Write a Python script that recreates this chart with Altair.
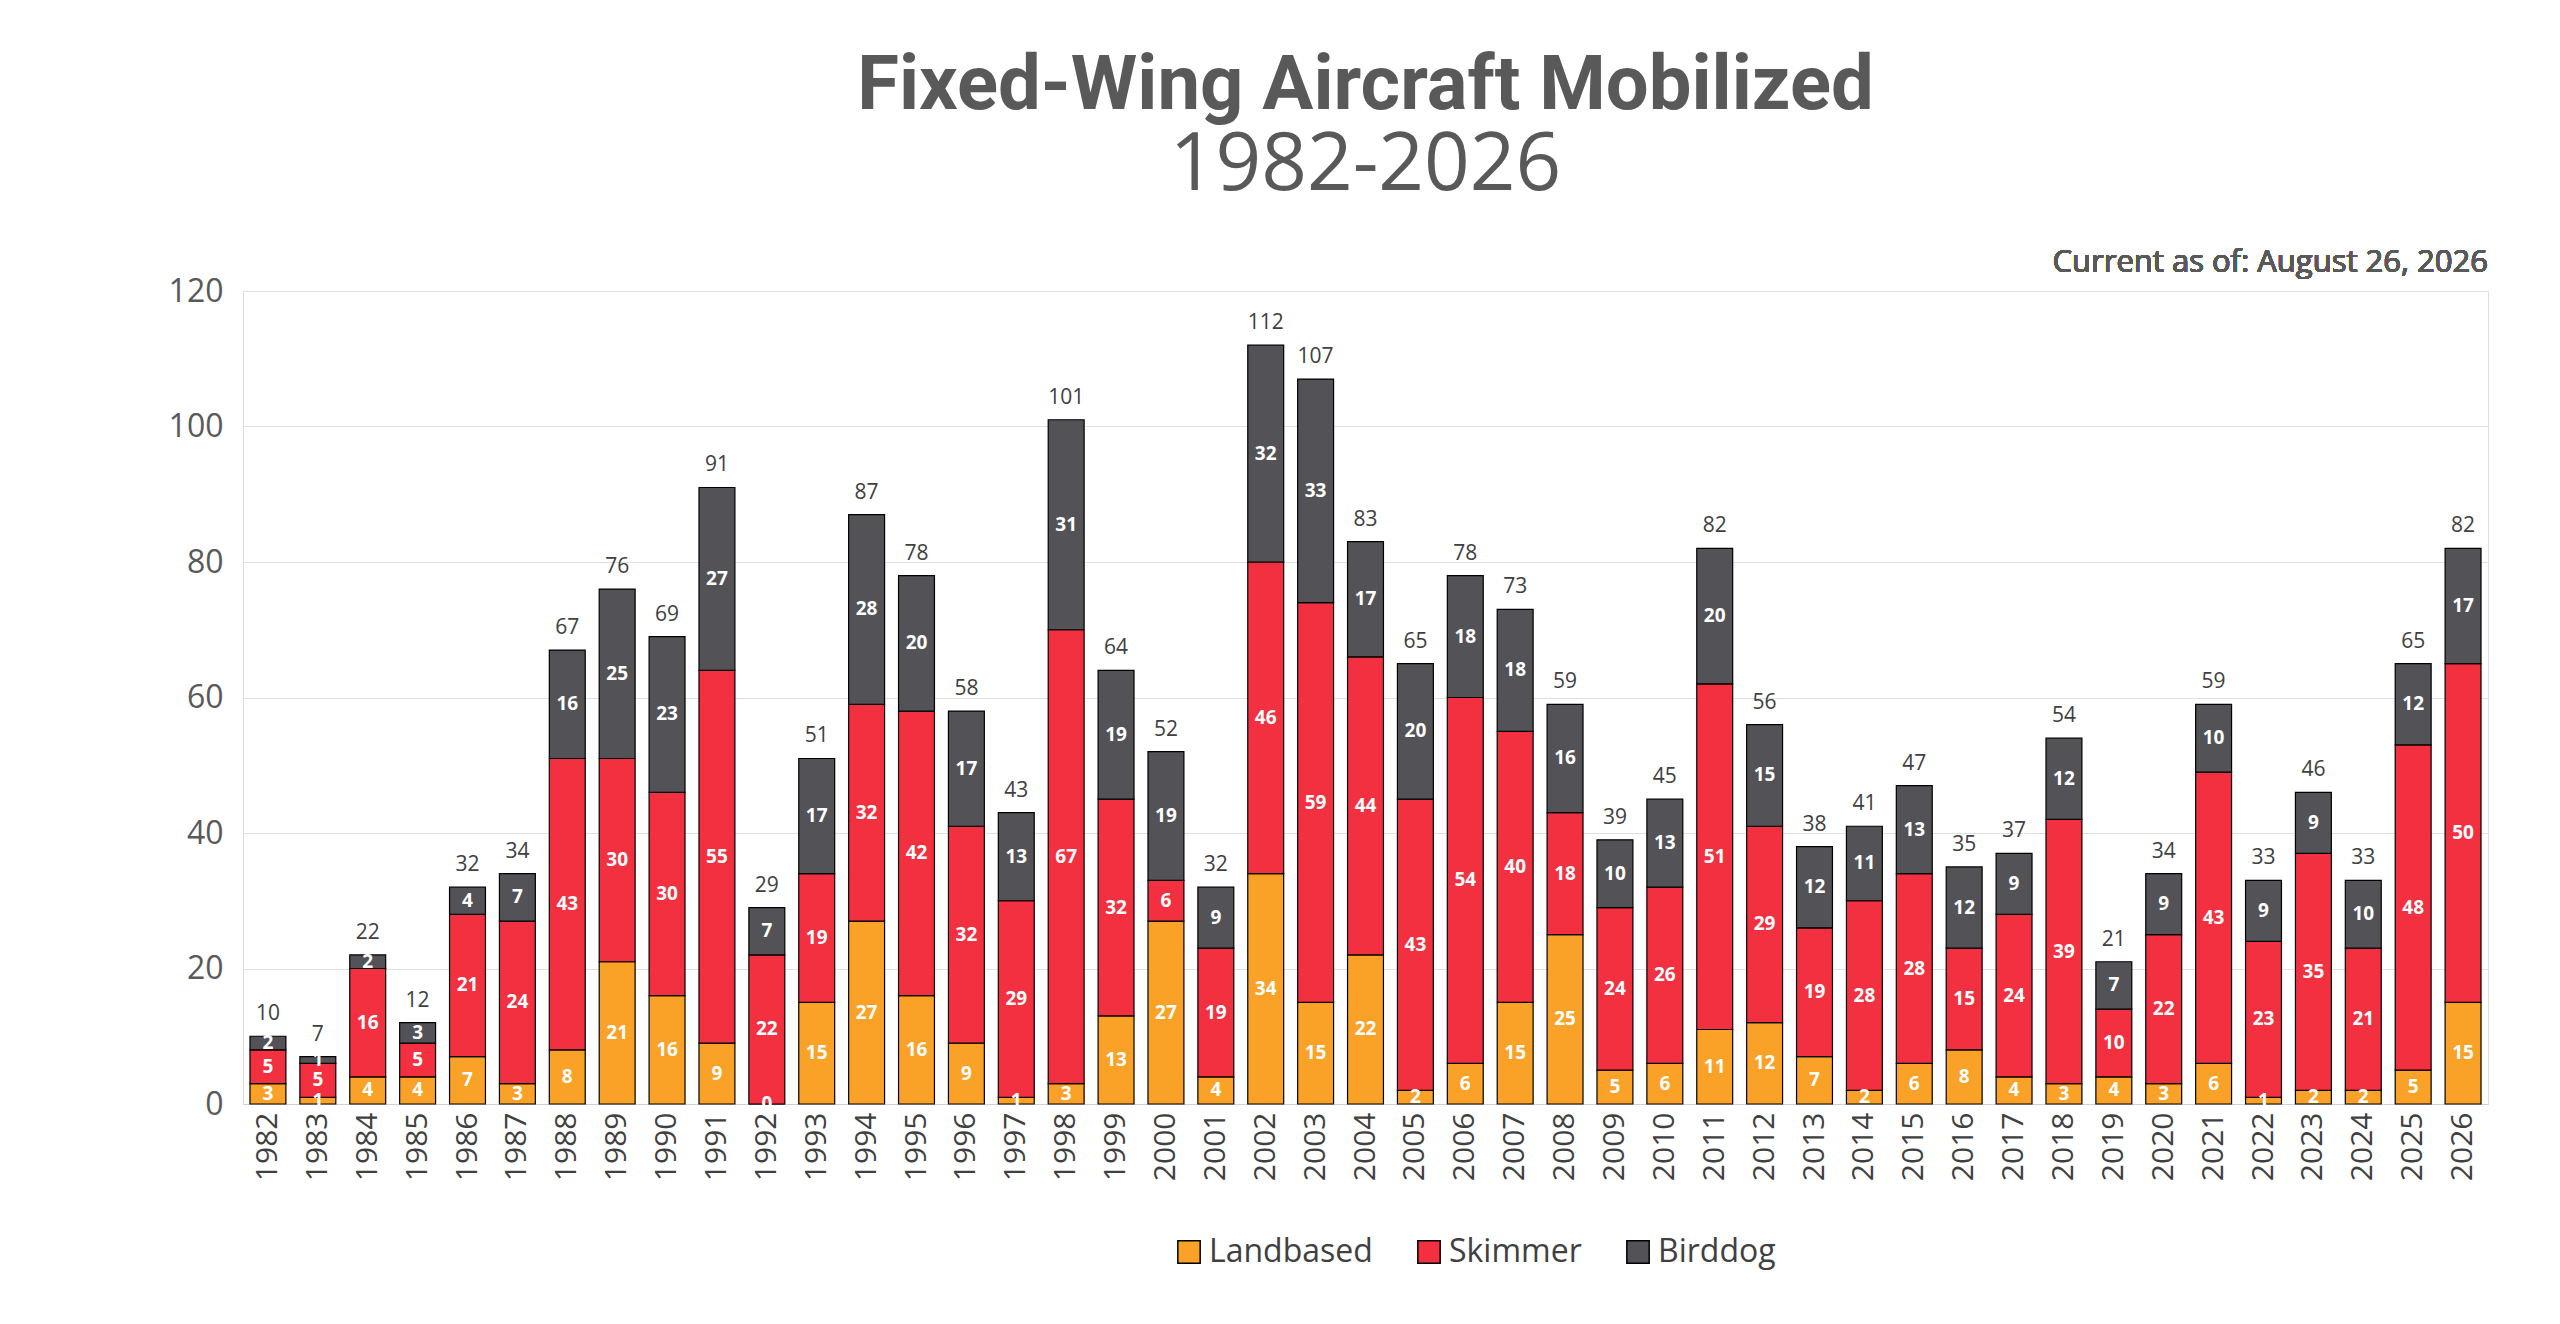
import altair as alt
import pandas as pd

years = [str(y) for y in range(1982, 2027)]
landbased = [3, 1, 4, 4, 7, 3, 8, 21, 16, 9, 0, 15, 27, 16, 9, 1, 3, 13, 27, 4,
             34, 15, 22, 2, 6, 15, 25, 5, 6, 11, 12, 7, 2, 6, 8, 4, 3, 4, 3, 6,
             1, 2, 2, 5, 15]
skimmer = [5, 5, 16, 5, 21, 24, 43, 30, 30, 55, 22, 19, 32, 42, 32, 29, 67, 32, 6, 19,
           46, 59, 44, 43, 54, 40, 18, 24, 26, 51, 29, 19, 28, 28, 15, 24, 39, 10, 22, 43,
           23, 35, 21, 48, 50]
birddog = [2, 1, 2, 3, 4, 7, 16, 25, 23, 27, 7, 17, 28, 20, 17, 13, 31, 19, 19, 9,
           32, 33, 17, 20, 18, 18, 16, 10, 13, 20, 15, 12, 11, 13, 12, 9, 12, 7, 9, 10,
           9, 9, 10, 12, 17]
types = ["Landbased", "Skimmer", "Birddog"]
colors = ["#F9A227", "#F2303F", "#525257"]

rows = []
for i, y in enumerate(years):
    for k, (t, v) in enumerate(zip(types, [landbased, skimmer, birddog])):
        rows.append({"year": y, "type": t, "order": k, "value": v[i]})
df = pd.DataFrame(rows)
totals = pd.DataFrame({"year": years,
                       "total": [a + b + c for a, b, c in zip(landbased, skimmer, birddog)]})

FONT = "Open Sans"
W, H = 2245, 813

x = alt.X("year:N", title=None, scale=alt.Scale(paddingInner=0.28, paddingOuter=0.14),
          axis=alt.Axis(labelAngle=270, labelFontSize=30, labelColor="#404040",
                        labelFont=FONT, ticks=False, domainColor="#d0d0d0", labelPadding=8))

base = alt.Chart(df)
bars = base.mark_bar(stroke="black", strokeWidth=1.2).encode(
    x=x,
    y=alt.Y("value:Q", stack="zero", title=None,
            scale=alt.Scale(domain=[0, 120]),
            axis=alt.Axis(values=[0, 20, 40, 60, 80, 100, 120], labelFontSize=32,
                          labelColor="#595959", labelFont=FONT, ticks=False, domain=False,
                          gridColor="#e0e0e0", labelPadding=20)),
    color=alt.Color("type:N", sort=types, scale=alt.Scale(domain=types, range=colors),
                    legend=alt.Legend(orient="none", legendX=930, legendY=945,
                                      direction="horizontal", title=None, labelFontSize=32,
                                      labelLimit=400,
                                      labelFont=FONT, labelColor="#404040", symbolType="square",
                                      symbolSize=500, symbolStrokeColor="black",
                                      symbolStrokeWidth=1.5, columnPadding=40)),
    order=alt.Order("order:Q"),
)

seg_labels = base.transform_stack(
    stack="value", groupby=["year"], as_=["v0", "v1"],
    sort=[alt.SortField("order", "ascending")]
).transform_calculate(
    mid="(datum.v0 + datum.v1) / 2"
).mark_text(color="white", fontSize=19, fontWeight="bold", font=FONT, baseline="middle").encode(
    x=x, y=alt.Y("mid:Q"), text="value:Q"
)

total_labels = alt.Chart(totals).mark_text(
    color="#404040", fontSize=21, font=FONT, baseline="bottom", dy=-12
).encode(x=x, y=alt.Y("total:Q"), text="total:Q")

note = alt.Chart(totals).mark_text(
    text="Current as of: August 26, 2026", align="right", baseline="bottom",
    fontSize=31, font=FONT, fontWeight="normal", color="#595959"
).encode(x=alt.value(W), y=alt.value(-12))

chart = (
    alt.layer(bars, seg_labels, total_labels, note)
    .properties(
        width=W, height=H,
        title=alt.TitleParams(
            "Fixed-Wing Aircraft Mobilized", subtitle="1982-2026",
            fontSize=76, font="Roboto", fontWeight="bold", color="#595959",
            subtitleFontSize=80, subtitleFont=FONT, subtitleColor="#595959",
            subtitlePadding=2, anchor="middle", offset=40,
        ),
        padding={"left": 160, "top": 40, "right": 40, "bottom": 30},
    )
    .configure_view(stroke=None)
    .configure(background="white")
)

chart.save("out.html", embed_options={"renderer": "svg", "actions": False})
